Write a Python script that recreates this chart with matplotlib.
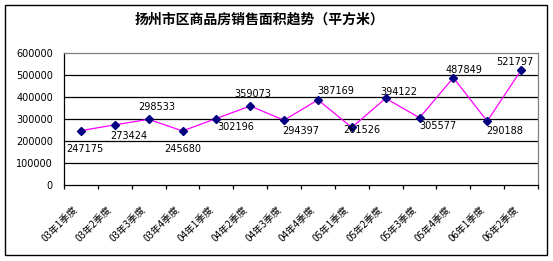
import matplotlib
matplotlib.use('Agg')
import matplotlib.pyplot as plt
from matplotlib.patches import Rectangle
from matplotlib.transforms import ScaledTranslation

plt.rcParams['font.family'] = ['Noto Sans CJK SC', 'DejaVu Sans']

# quarterly sales area, Yangzhou city district (m2)
quarters = ['03年1季度', '03年2季度', '03年3季度', '03年4季度',
            '04年1季度', '04年2季度', '04年3季度', '04年4季度',
            '05年1季度', '05年2季度', '05年3季度', '05年4季度',
            '06年1季度', '06年2季度']
area = [247175, 273424, 298533, 245680, 302196, 359073, 294397,
        387169, 261526, 394122, 305577, 487849, 290188, 521797]
yticks = [0, 100000, 200000, 300000, 400000, 500000, 600000]

# label offsets in pixels (dx right, dy down), as placed in the original
label_offsets = [(4, 18), (14, 11), (8, -12), (0, 18), (19, 8), (3, -12),
                 (17, 11), (18, -9), (10, 3), (13, -6), (18, 8), (11, -8),
                 (17, 10), (-6, -8)]

W, H = 553, 261
fig = plt.figure(figsize=(W / 100, H / 100), dpi=100)
fig.patch.set_facecolor('white')
fig.patches.append(Rectangle((5 / W, 1 - 255 / H), 542 / W, 250 / H,
                             transform=fig.transFigure, fill=False,
                             edgecolor='black', linewidth=1))

ax = fig.add_axes([64 / W, 1 - 185 / H, 474 / W, 132 / H])
x = list(range(len(area)))
ax.plot(x, area, color='#FF00FF', linewidth=0.9, zorder=3)
ax.plot(x, area, linestyle='none', marker='D', markersize=4,
        color='#000080', zorder=4)

for i, v in enumerate(area):
    dx, dy = label_offsets[i]
    ax.annotate(str(v), (i, v), xytext=(dx, -dy), textcoords='offset pixels',
                ha='center', va='center', fontsize=7, family='DejaVu Sans',
                color='black', zorder=5)

ax.set_xlim(-0.5, len(area) - 0.5)
ax.set_ylim(0, 600000)
ax.set_yticks(yticks)
ax.set_yticklabels([str(t) for t in yticks], fontsize=7, family='DejaVu Sans')
ax.tick_params(axis='y', length=0, pad=8)
for t in yticks[1:-1]:
    ax.axhline(t, color='black', linewidth=0.9, zorder=1)

ax.set_xticks(x)
ax.set_xticklabels(quarters, rotation=45, ha='right', va='top',
                   rotation_mode='anchor', fontsize=7)
ax.tick_params(axis='x', which='major', length=0, pad=14)
ax.set_xticks([i - 0.5 for i in range(len(area) + 1)], minor=True)
ax.tick_params(axis='x', which='minor', length=3, direction='out', width=0.9)
shift = ScaledTranslation(-8 / 100, 0, fig.dpi_scale_trans)
for lbl in ax.get_xticklabels():
    lbl.set_transform(lbl.get_transform() + shift)

ax.spines['left'].set_color('black')
ax.spines['bottom'].set_color('black')
ax.spines['top'].set_color('#808080')
ax.spines['right'].set_color('#808080')
for s in ax.spines.values():
    s.set_linewidth(0.9)

fig.text(259 / W, 1 - 20 / H, '扬州市区商品房销售面积趋势（平方米）',
         ha='center', va='center', fontsize=10, fontweight='bold')

fig.savefig('out.png', dpi=100)
